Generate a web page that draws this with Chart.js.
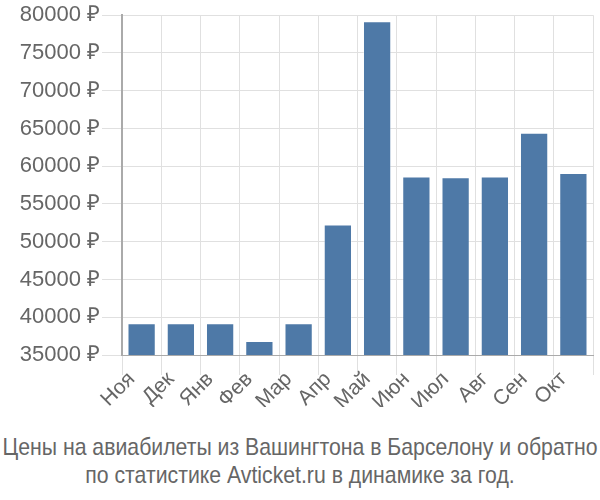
<!DOCTYPE html>
<html lang="ru">
<head>
    <meta charset="UTF-8">
    <title>Цены на авиабилеты</title>
    <script src="https://cdn.jsdelivr.net/npm/chart.js"></script>
    <style>
        html, body { margin: 0; padding: 0; background: #fff; }
        #wrap { width: 600px; height: 500px; position: relative; overflow: hidden; }
        #chartBox { position: absolute; left: 0; top: 0; width: 600px; height: 407px; }
        /* подпись снизу, узкий шрифт имитируем через scaleX */
        #caption {
            position: absolute; left: 0; top: 433px; width: 600px;
            font-family: "Liberation Sans", Arial, sans-serif; font-size: 24px; line-height: 28px;
            color: #666;
        }
        #caption div {
            position: relative; left: 50%; width: max-content; white-space: nowrap;
            transform: translateX(-50%) scaleX(0.885);
        }
    </style>
</head>
<body>
    <div id="wrap">
        <div id="chartBox"><canvas id="priceChart"></canvas></div>
        <div id="caption"></div>
    </div>

    <script>
        // Данные
        const months = ['Ноя', 'Дек', 'Янв', 'Фев', 'Мар', 'Апр', 'Май', 'Июн', 'Июл', 'Авг', 'Сен', 'Окт'];
        const prices = [39200, 39200, 39200, 36850, 39200, 52300, 79200, 58650, 58550, 58650, 64450, 59100];
        const yMin = 35000;
        const yMax = 80000;
        const yStep = 5000;
        const titleLines = ['Цены на авиабилеты из Вашингтона в Барселону и обратно', 'по статистике Avticket.ru в динамике за год.'];

        const cap = document.getElementById('caption');
        titleLines.forEach(t => {
            const d = document.createElement('div');
            d.textContent = t;
            cap.appendChild(d);
        });

        const ctx = document.getElementById('priceChart').getContext('2d');
        new Chart(ctx, {
            type: 'bar',
            data: {
                labels: months,
                datasets: [{
                    data: prices,
                    backgroundColor: '#4e79a7',
                    borderColor: 'rgba(255,255,255,0.35)',
                    borderWidth: 1,
                    barPercentage: 0.72,
                    categoryPercentage: 1.0
                }]
            },
            options: {
                responsive: true,
                maintainAspectRatio: false,
                animation: false,
                layout: { padding: { top: 3, right: 7, left: 0, bottom: 0 } },
                plugins: {
                    legend: { display: false },
                    tooltip: { enabled: false },
                    title: { display: false }
                },
                scales: {
                    x: {
                        grid: { color: '#e0e0e0', lineWidth: 1, offset: true, tickLength: 20 },
                        border: { color: '#aaa' },
                        ticks: {
                            color: '#666',
                            font: { family: '"Liberation Sans", Arial, sans-serif', size: 21 },
                            autoSkip: false,
                            minRotation: 45,
                            maxRotation: 45,
                            labelOffset: -10,
                            padding: -8
                        }
                    },
                    y: {
                        min: yMin,
                        max: yMax,
                        afterFit: s => { s.width = 122; },
                        grid: { color: '#e0e0e0', lineWidth: 1, tickLength: 20 },
                        border: { color: '#aaa', width: 2 },
                        ticks: {
                            stepSize: yStep,
                            color: '#666',
                            padding: 2,
                            font: { family: '"Liberation Sans", Arial, sans-serif', size: 22 },
                            callback: v => v + ' ₽'
                        }
                    }
                }
            }
        });
    </script>
</body>
</html>
